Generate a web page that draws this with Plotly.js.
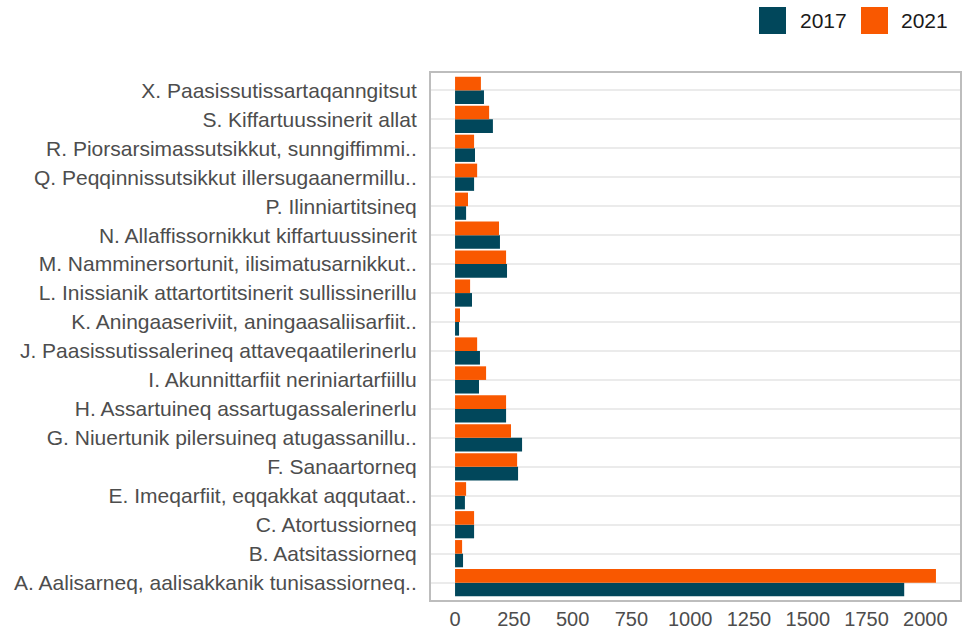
<!DOCTYPE html>
<html>
<head>
<meta charset="utf-8">
<script src="https://cdn.plot.ly/plotly-3.0.1.min.js"></script>
<style>html,body{margin:0;padding:0;background:#fff;}#chart{width:973px;height:632px;}</style>
</head>
<body>
<div id="chart"></div>
<script>
const categories = [
  "A. Aalisarneq, aalisakkanik tunisassiorneq..",
  "B. Aatsitassiorneq",
  "C. Atortussiorneq",
  "E. Imeqarfiit, eqqakkat aqqutaat..",
  "F. Sanaartorneq",
  "G. Niuertunik pilersuineq atugassanillu..",
  "H. Assartuineq assartugassalerinerlu",
  "I. Akunnittarfiit neriniartarfiillu",
  "J. Paasissutissalerineq attaveqaatilerinerlu",
  "K. Aningaaseriviit, aningaasaliisarfiit..",
  "L. Inissianik attartortitsinerit sullissinerillu",
  "M. Namminersortunit, ilisimatusarnikkut..",
  "N. Allaffissornikkut kiffartuussinerit",
  "P. Ilinniartitsineq",
  "Q. Peqqinnissutsikkut illersugaanermillu..",
  "R. Piorsarsimassutsikkut, sunngiffimmi..",
  "S. Kiffartuussinerit allat",
  "X. Paasissutissartaqanngitsut"
];
const values2017 = [1910, 34, 81, 42, 268, 285, 217, 102, 106, 17, 72, 221, 191, 47, 81, 85, 161, 123];
const values2021 = [2045, 30, 81, 47, 264, 238, 217, 132, 94, 21, 64, 217, 187, 55, 94, 81, 145, 110];
const seriesNames = ["2017", "2021"];
const colors = ["#01475B", "#F95800"];
const xTicks = [0, 250, 500, 750, 1000, 1250, 1500, 1750, 2000];

const traces = [
  {type: "bar", orientation: "h", name: seriesNames[0], y: categories, x: values2017,
   marker: {color: colors[0]}, hoverinfo: "x+y"},
  {type: "bar", orientation: "h", name: seriesNames[1], y: categories, x: values2021,
   marker: {color: colors[1]}, hoverinfo: "x+y"}
];

const maxV = Math.max(...values2017, ...values2021);
const layout = {
  width: 973, height: 632,
  margin: {l: 431, r: 13, t: 73, b: 32, pad: 0},
  paper_bgcolor: "#fff", plot_bgcolor: "#fff",
  font: {family: "Liberation Sans, Arial, sans-serif", size: 20, color: "#4d4d4d"},
  barmode: "group", bargap: 0.06, bargroupgap: 0,
  showlegend: false,
  xaxis: {
    range: [-0.05 * maxV, 1.05 * maxV],
    tickvals: xTicks, ticktext: xTicks.map(String),
    showgrid: false, zeroline: false,
    showline: true, mirror: true, linecolor: "#bdbdbd", linewidth: 2,
    ticks: "", 
    tickfont: {size: 20, color: "#4d4d4d"}
  },
  yaxis: {
    type: "category", categoryorder: "array", categoryarray: categories,
    range: [-0.6, categories.length - 1 + 0.6],
    showgrid: true, gridcolor: "#ebebeb", gridwidth: 2,
    zeroline: false,
    showline: true, mirror: true, linecolor: "#bdbdbd", linewidth: 2,
    ticks: "outside", ticklen: 8, tickcolor: "rgba(0,0,0,0)",
    tickfont: {size: 21, color: "#4d4d4d"}
  },
  shapes: [
    {type: "rect", xref: "paper", yref: "paper", x0: (759-431)/529, x1: (786-431)/529,
     y0: 1 + (73-34)/527, y1: 1 + (73-7)/527, fillcolor: colors[0], line: {width: 0}},
    {type: "rect", xref: "paper", yref: "paper", x0: (861-431)/529, x1: (888-431)/529,
     y0: 1 + (73-34)/527, y1: 1 + (73-7)/527, fillcolor: colors[1], line: {width: 0}}
  ],
  annotations: [
    {xref: "paper", yref: "paper", x: (798-431)/529, y: 1 + (73-20.5)/527, xanchor: "left", yanchor: "middle",
     text: seriesNames[0], showarrow: false, font: {size: 21, color: "#1a1a1a"}},
    {xref: "paper", yref: "paper", x: (899-431)/529, y: 1 + (73-20.5)/527, xanchor: "left", yanchor: "middle",
     text: seriesNames[1], showarrow: false, font: {size: 21, color: "#1a1a1a"}}
  ]
};
Plotly.newPlot("chart", traces, layout, {displayModeBar: false, staticPlot: true});
</script>
</body>
</html>
